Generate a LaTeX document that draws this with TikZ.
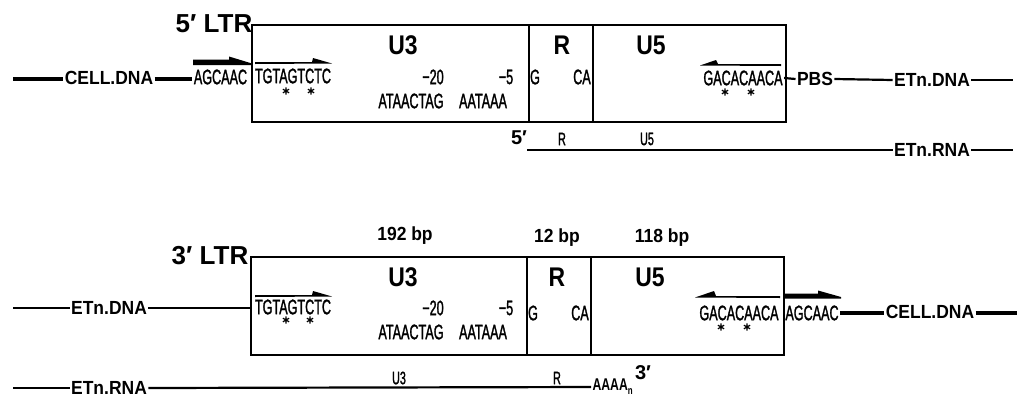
\documentclass[tikz,border=0pt]{standalone}
\usepackage{fontspec}
\setmainfont{Liberation Sans}
\newfontfamily\condfont[FakeStretch=0.6,FakeBold=1.3]{Liberation Sans}
\newfontfamily\polyfont[FakeStretch=0.72]{Liberation Sans}
\newfontfamily\lblfont[FakeStretch=0.92]{Liberation Sans}
\newfontfamily\regfont[FakeStretch=0.85]{Liberation Sans}
\begin{document}
\begin{tikzpicture}[x=1pt,y=-1pt,
  txt/.style={inner sep=0pt, outer sep=1.5pt, anchor=center},
  seq/.style={txt, font=\condfont\fontsize{21}{21}\selectfont},
  small/.style={txt, font=\condfont\fontsize{18}{18}\selectfont},
  region/.style={txt, font=\regfont\fontsize{27}{27}\selectfont\bfseries},
  ltr/.style={txt, font=\fontsize{26}{26}\selectfont\bfseries},
  lbl/.style={txt, font=\lblfont\fontsize{19}{19}\selectfont\bfseries},
  prime/.style={txt, font=\fontsize{20}{20}\selectfont\bfseries},
  seg/.style={draw, line width=2.8pt, inner sep=0pt, outer sep=0pt, anchor=north west, minimum height=97pt},
  thickdna/.style={line width=4pt},
  thin/.style={line width=2.2pt},
  aster/.pic={\draw[line width=1.2pt] (0,-3.6)--(0,3.6) (-3.1,-1.8)--(3.1,1.8) (-3.1,1.8)--(3.1,-1.8);}
]
\useasboundingbox (0,0) rectangle (1017,397);

% ================= 5' LTR =================
\node[ltr] (ltr5) at (214,24) {5′ LTR};
\node[seg, minimum width=277pt] (u3a) at (252,25) {};
\node[seg, minimum width=64pt]  (ra)  at (529,25) {};
\node[seg, minimum width=193pt] (u5a) at (593,25) {};
\node[region] (u3la) at (403,45) {U3};
\node[region] (rla)  at (562,45) {R};
\node[region] (u5la) at (651,45) {U5};

\coordinate (la) at (13,79);
\node[lbl] (cell1) at (109,78) {CELL.DNA};
\node[seq] (ag1) at (220.5,77) {AGCAAC};
\draw[thickdna] (la) -- (la -| cell1.west);
\draw[thickdna] (la -| cell1.east) -- (la -| ag1.west);

\node[seq] (tg1) at (293,76) {TGTAGTCTC};
\node[seq] (m20a) at (433,77) {−20};
\node[seq] (m5a) at (506,77) {−5};
\node[seq] (at1) at (411,101) {ATAACTAG};
\node[seq] (aa1) at (483,101) {AATAAA};
\node[seq] (ga) at (535,77) {G};
\node[seq] (caa) at (582,77) {CA};
\node[seq] (gac1) at (743,78) {GACACAACA};
\pic at (286,91) {aster}; \pic at (311,91) {aster};
\pic at (725,92) {aster}; \pic at (751,92) {aster};

% arrows
\fill (193,59.5) -- (229,59.5) -- (229,56.5) -- (252,63.5) -- (252,65) -- (193,65) -- cycle;
\fill (255,62) -- (312,62) -- (313,58) -- (332,63.5) -- (255,64) -- cycle;
\fill (781,64) -- (718,64) -- (716,60) -- (700,65.5) -- (781,66) -- cycle;

\node[lbl] (pbs) at (815,79) {PBS};
\node[lbl] (etd1) at (932,80) {ETn.DNA};
\coordinate (ra1) at (1013,80);
\draw[thin] (gac1.east) -- (pbs.west);
\draw[thin] (pbs.east) -- (etd1.west);
\draw[thin] (etd1.east) -- (ra1);

\node[prime] (p5) at (519,138) {5′};
\node[small] (rs1) at (562,139) {R};
\node[small] (u5s1) at (647,139) {U5};
\coordinate (rna5) at (527,150);
\node[lbl] (etr1) at (932,150) {ETn.RNA};
\coordinate (rna5e) at (1013,150);
\draw[thin] (rna5) -- (etr1.west);
\draw[thin] (etr1.east) -- (rna5e);

% ================= 3' LTR =================
\node[lbl, anchor=base] (bp192) at (405,240) {192 bp};
\node[lbl, anchor=base] (bp12) at (557,242) {12 bp};
\node[lbl, anchor=base] (bp118) at (662,242) {118 bp};

\node[ltr] (ltr3) at (210,256) {3′ LTR};
\node[seg, minimum width=276pt, minimum height=98pt] (u3b) at (251,257) {};
\node[seg, minimum width=64pt, minimum height=98pt]  (rb)  at (527,257) {};
\node[seg, minimum width=193pt, minimum height=98pt] (u5b) at (591,257) {};
\node[region] (u3lb) at (403,277) {U3};
\node[region] (rlb)  at (557,277) {R};
\node[region] (u5lb) at (650,277) {U5};

\coordinate (lb) at (13,308);
\node[lbl] (etd2) at (109,308) {ETn.DNA};
\draw[thin] (lb) -- (etd2.west);
\draw[thin] (etd2.east) -- (etd2.east -| u3b.west);

\node[seq] (tg2) at (293,307) {TGTAGTCTC};
\node[seq] (m20b) at (433,308) {−20};
\node[seq] (m5b) at (506,308) {−5};
\node[seq] (at2) at (411,332) {ATAACTAG};
\node[seq] (aa2) at (483,332) {AATAAA};
\node[seq] (gb) at (533,313) {G};
\node[seq] (cab) at (580,313) {CA};
\node[seq] (gac2) at (739,313) {GACACAACA};
\node[seq] (ag2) at (812,313) {AGCAAC};
\pic at (286,320) {aster}; \pic at (310,320) {aster};
\pic at (721,327) {aster}; \pic at (747,327) {aster};

\fill (255,295) -- (312,295) -- (313,291) -- (332,296.5) -- (255,297) -- cycle;
\fill (780,296) -- (716,296) -- (714,291) -- (695,297.5) -- (780,298) -- cycle;
\fill (785,293.5) -- (818,293.5) -- (818,290.5) -- (841,297) -- (841,298.5) -- (785,298.5) -- cycle;

\node[lbl] (cell2) at (930,312) {CELL.DNA};
\coordinate (rb2) at (1017,313);
\draw[thickdna] (rb2 -| ag2.east) -- (rb2 -| cell2.west);
\draw[thickdna] (rb2 -| cell2.east) -- (rb2);

\coordinate (lr) at (13,388);
\node[lbl] (etr2) at (109,388) {ETn.RNA};
\node[small] (u3s2) at (399,378) {U3};
\node[small] (rs2) at (557,378) {R};
\node[txt, font=\polyfont\fontsize{17}{17}\selectfont\bfseries, anchor=west] (poly) at (591,387) {AAAA\raisebox{-4pt}{\fontsize{11}{11}\selectfont n}};
\node[prime] (p3) at (643,373) {3′};
\draw[thin] (lr) -- (etr2.west);
\draw[thin] (etr2.east) -- (poly.west);
\end{tikzpicture}
\end{document}
